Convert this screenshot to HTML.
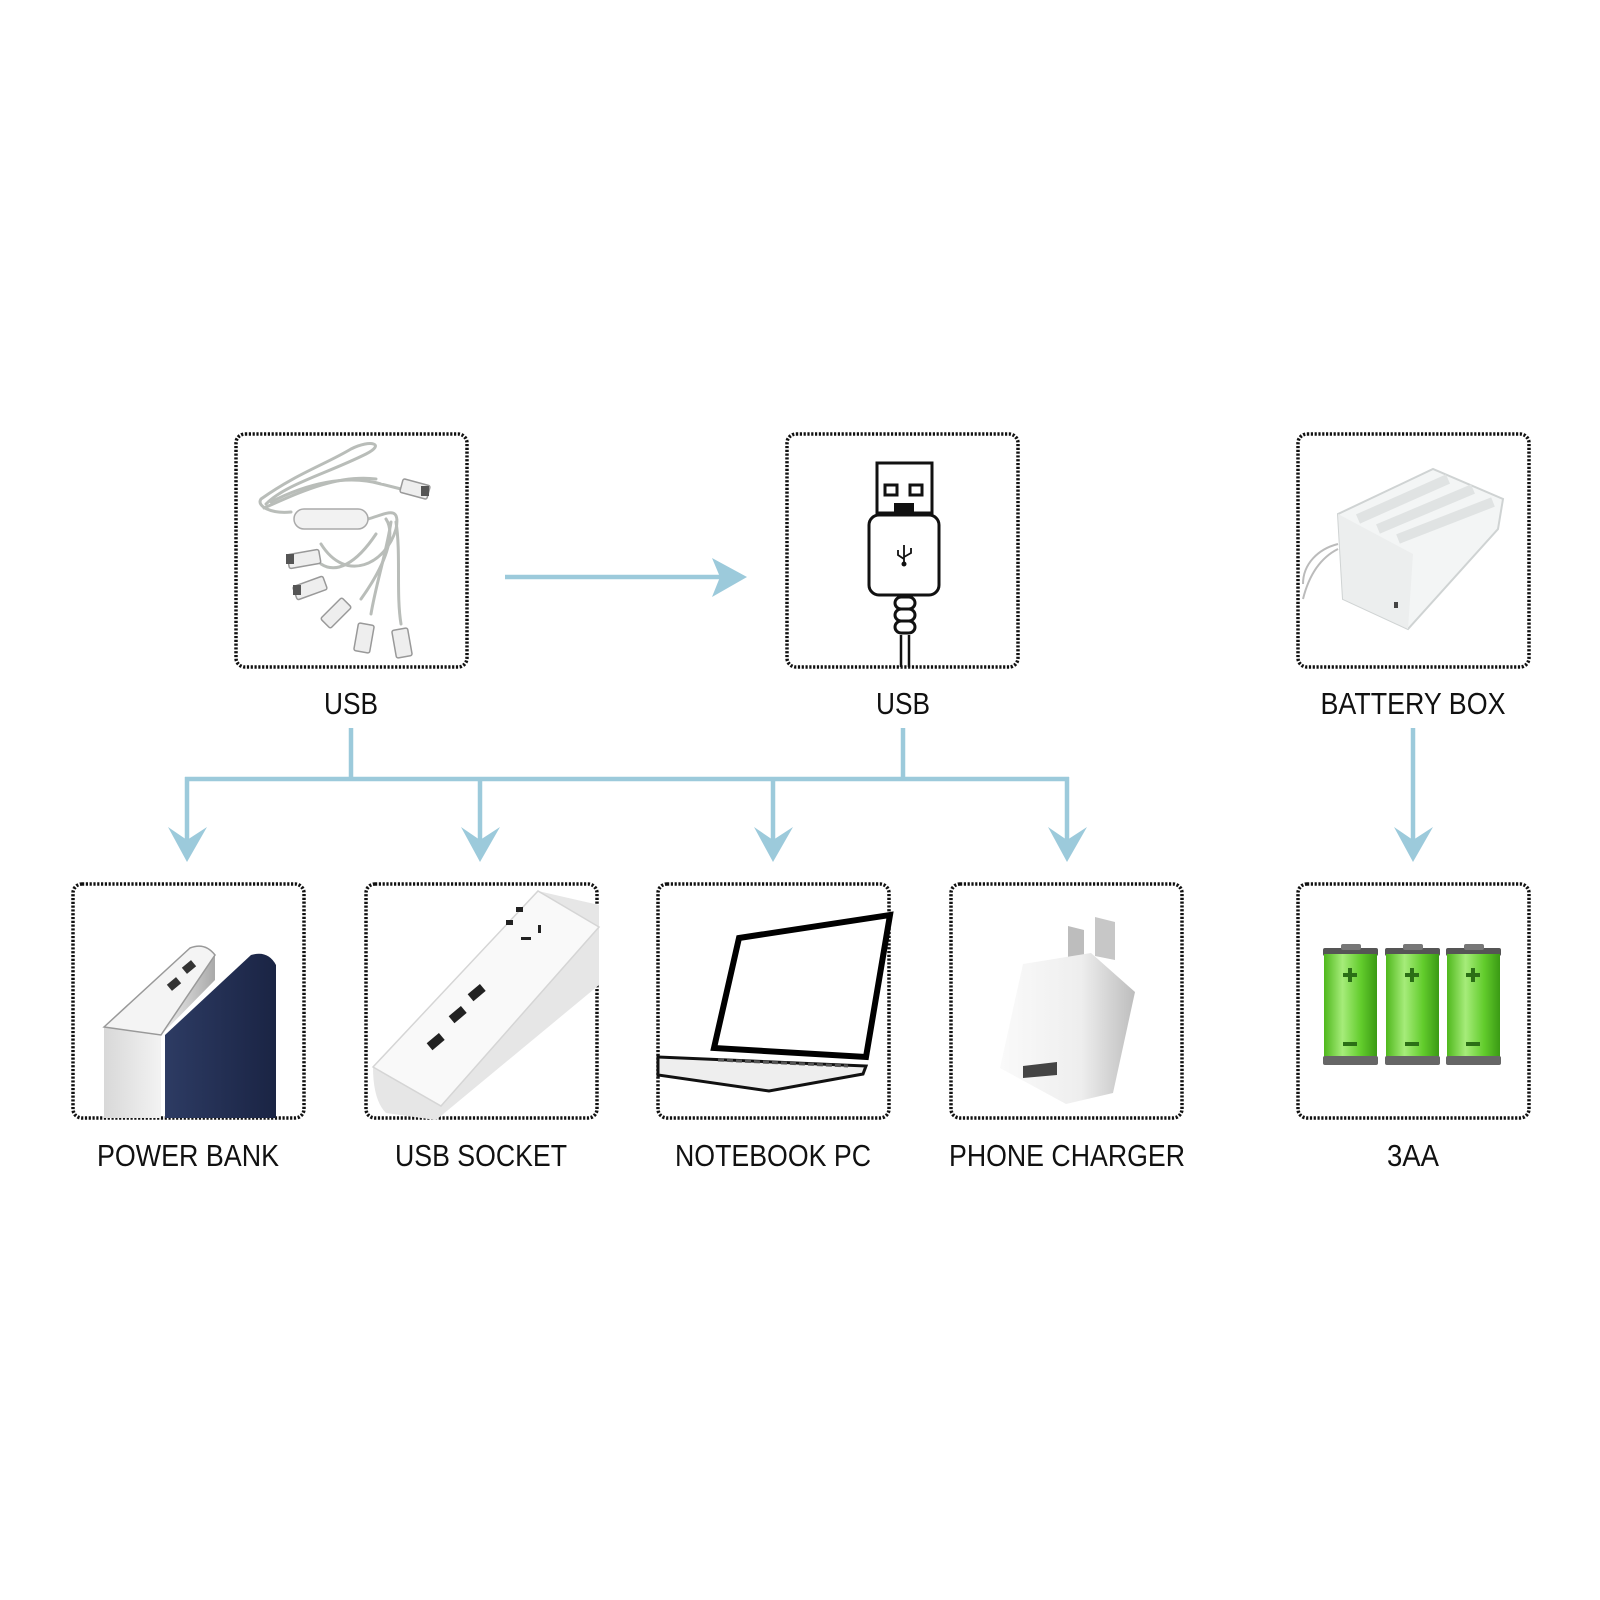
<!DOCTYPE html>
<html><head><meta charset="utf-8"><style>
html,body{margin:0;padding:0;background:#fff}
svg{display:block}
text{font-family:"Liberation Sans",sans-serif;font-size:31px;fill:#111}
</style></head><body>
<svg width="1600" height="1600" viewBox="0 0 1600 1600" xmlns="http://www.w3.org/2000/svg">
<defs>
<linearGradient id="grn" x1="0" x2="1"><stop offset="0" stop-color="#4fb81c"/><stop offset="0.35" stop-color="#a6ec7a"/><stop offset="0.7" stop-color="#62cc2c"/><stop offset="1" stop-color="#3a9a14"/></linearGradient>
<linearGradient id="slv" x1="0" x2="1"><stop offset="0" stop-color="#d8d8d8"/><stop offset="0.5" stop-color="#f2f2f2"/><stop offset="1" stop-color="#a9a9a9"/></linearGradient>
<linearGradient id="nvy" x1="0" x2="1"><stop offset="0" stop-color="#2d3b63"/><stop offset="1" stop-color="#1a2444"/></linearGradient>
<linearGradient id="chg" x1="0" x2="1"><stop offset="0" stop-color="#fafafa"/><stop offset="0.6" stop-color="#eeeeee"/><stop offset="1" stop-color="#bdbdbd"/></linearGradient>
<g id="bat">
<rect x="0" y="4" width="55" height="8" rx="2" fill="#555"/>
<rect x="18" y="0" width="20" height="6" rx="2" fill="#777"/>
<rect x="1" y="10" width="53" height="104" fill="url(#grn)"/>
<rect x="0" y="112" width="55" height="9" rx="2" fill="#666"/>
<path d="M27 24v14M20 31h14" stroke="#2b6f16" stroke-width="4"/>
<path d="M20 100h14" stroke="#2b6f16" stroke-width="4"/>
</g>
</defs>

<g fill="none" stroke="#111" stroke-width="3.5" stroke-dasharray="2.2 1.6">
<rect x="236" y="434" width="231" height="233" rx="9"/>
<rect x="787" y="434" width="231" height="233" rx="9"/>
<rect x="1298" y="434" width="231" height="233" rx="9"/>
<rect x="73" y="884" width="231" height="234" rx="9"/>
<rect x="366" y="884" width="231" height="234" rx="9"/>
<rect x="658" y="884" width="231" height="234" rx="9"/>
<rect x="951" y="884" width="231" height="234" rx="9"/>
<rect x="1298" y="884" width="231" height="234" rx="9"/>
</g>

<g stroke="#9ccadb" stroke-width="4.5" fill="none">
<line x1="505" y1="577" x2="725" y2="577"/>
<line x1="351" y1="728" x2="351" y2="779"/>
<line x1="903" y1="728" x2="903" y2="779"/>
<line x1="185" y1="779" x2="1069" y2="779"/>
<line x1="187" y1="777" x2="187" y2="845"/>
<line x1="480" y1="777" x2="480" y2="845"/>
<line x1="773" y1="777" x2="773" y2="845"/>
<line x1="1067" y1="777" x2="1067" y2="845"/>
<line x1="1413" y1="728" x2="1413" y2="845"/>
</g>
<g fill="#9ccadb">
<path d="M747 577L712 558L720 577L712 597Z"/>
<path d="M187 862L168 827L187 840L207 827Z"/>
<path d="M480 862L461 827L480 840L500 827Z"/>
<path d="M773 862L754 827L773 840L793 827Z"/>
<path d="M1067 862L1048 827L1067 840L1087 827Z"/>
<path d="M1413 862L1394 827L1413 840L1433 827Z"/>
</g>

<g transform="translate(236,434)" stroke-linecap="round">
<g fill="none" stroke="#b9bdb9" stroke-width="3">
<path d="M30 70C50 50 90 40 130 20C150 10 135 5 115 15C90 30 60 40 25 65C20 72 35 80 55 78"/>
<path d="M35 68C70 50 110 40 145 50L165 55"/>
<path d="M28 74C60 60 100 40 140 45"/>
<path d="M132 85C150 80 165 70 160 95C150 130 110 150 85 110"/>
<path d="M150 85C160 100 150 130 125 165"/>
<path d="M155 88C150 120 140 150 135 180"/>
<path d="M160 88C165 120 160 160 165 190"/>
<path d="M140 100C120 130 100 140 85 130"/>
</g>
<rect x="58" y="75" width="74" height="20" rx="10" fill="#f2f2f2" stroke="#aaa" stroke-width="1.5"/>
<g fill="#eee" stroke="#999" stroke-width="1.5">
<rect x="165" y="48" width="28" height="14" rx="2" transform="rotate(15 179 55)"/>
<rect x="52" y="118" width="32" height="14" rx="2" transform="rotate(-10 68 125)"/>
<rect x="58" y="147" width="32" height="14" rx="2" transform="rotate(-20 74 154)"/>
<rect x="85" y="172" width="30" height="14" rx="2" transform="rotate(-45 100 179)"/>
<rect x="120" y="190" width="16" height="28" rx="2" transform="rotate(10 128 204)"/>
<rect x="158" y="195" width="16" height="28" rx="2" transform="rotate(-10 166 209)"/>
</g>
<g fill="#555"><rect x="185" y="52" width="8" height="10"/><rect x="50" y="120" width="8" height="10"/><rect x="57" y="151" width="8" height="10"/></g>
</g>

<g fill="none" stroke="#111" stroke-width="3">
<rect x="877" y="463" width="55" height="50"/>
<rect x="885" y="485" width="12" height="10"/>
<rect x="910" y="485" width="12" height="10"/>
<rect x="869" y="515" width="70" height="80" rx="10"/>
<rect x="895" y="597" width="20" height="12" rx="6"/>
<rect x="895" y="609" width="20" height="12" rx="6"/>
<rect x="895" y="621" width="20" height="12" rx="6"/>
<path d="M901 635V667M909 635V667" stroke-width="2.5"/>
<path d="M904 545V563M898 550v5l6 4M911 548v5l-7 4" stroke-width="1.8"/>
</g>
<rect x="894" y="503" width="20" height="11" fill="#111"/>
<circle cx="904" cy="564" r="2.5" fill="#111"/>

<g transform="translate(1298,434)">
<path d="M40 80L135 35L205 65L200 95L110 195L45 165Z" fill="#f3f5f5" stroke="#cfd3d3" stroke-width="2"/>
<path d="M45 165L110 195L115 120L40 80Z" fill="#eceeee"/>
<path d="M60 85L150 45M80 95L175 55M100 105L195 68" stroke="#e0e3e3" stroke-width="10"/>
<path d="M40 110C20 115 5 130 5 150M40 115C20 125 10 145 5 165" stroke="#bbb" stroke-width="2" fill="none"/>
<rect x="96" y="168" width="4" height="6" fill="#444"/>
</g>

<g transform="translate(73,885)">
<path d="M31 142L117 63Q132 57 142 70L142 95L88 150L88 233L31 233Z" fill="url(#slv)"/>
<path d="M31 142L117 63Q132 57 142 70L88 150Z" fill="#f4f4f4" stroke="#999" stroke-width="1.5"/>
<path d="M92 150L178 70Q195 65 203 80L203 233L92 233Z" fill="url(#nvy)"/>
<rect x="95" y="95" width="12" height="8" fill="#333" transform="rotate(-40 101 99)"/>
<rect x="110" y="78" width="12" height="8" fill="#333" transform="rotate(-40 116 82)"/>
</g>

<g transform="translate(366,885)">
<path d="M7 182L172 6L233 20L233 100L70 235L20 228Q7 215 7 182Z" fill="#e6e6e6"/>
<path d="M7 182L172 6L233 42L75 221Z" fill="#f9f9f9" stroke="#d5d5d5" stroke-width="1.5"/>
<g fill="#222"><rect x="62" y="152" width="16" height="9" transform="rotate(-40 70 157)"/><rect x="84" y="125" width="16" height="9" transform="rotate(-40 92 130)"/><rect x="103" y="103" width="16" height="9" transform="rotate(-40 111 108)"/><rect x="150" y="22" width="7" height="5"/><rect x="140" y="35" width="7" height="5"/><rect x="155" y="52" width="10" height="3"/><rect x="172" y="40" width="3" height="8"/></g>
</g>

<g transform="translate(658,884)">
<path d="M81 54L232 31L208 173L56 164Z" fill="#fff" stroke="#000" stroke-width="6"/>
<path d="M0 173L208 182L205 190L111 207L0 191Z" fill="#eee" stroke="#111" stroke-width="3"/>
<path d="M60 176L190 182" stroke="#555" stroke-width="3" stroke-dasharray="6 3"/>
</g>

<g transform="translate(951,884)">
<path d="M117 42L133 46L133 80L117 76Z" fill="#bdbdbd"/>
<path d="M144 33L164 38L164 76L144 72Z" fill="#c7c7c7"/>
<path d="M72 80L140 69L184 108L162 209L115 220L49 184Z" fill="url(#chg)"/>
<path d="M72 182L106 178L106 191L72 194Z" fill="#444"/>
</g>

<use href="#bat" x="1323" y="944"/>
<use href="#bat" x="1385" y="944"/>
<use href="#bat" x="1446" y="944"/>

<g text-anchor="middle">
<text x="351" y="714" textLength="54" lengthAdjust="spacingAndGlyphs">USB</text>
<text x="903" y="714" textLength="54" lengthAdjust="spacingAndGlyphs">USB</text>
<text x="1413" y="714" textLength="185" lengthAdjust="spacingAndGlyphs">BATTERY BOX</text>
<text x="188" y="1166" textLength="182" lengthAdjust="spacingAndGlyphs">POWER BANK</text>
<text x="481" y="1166" textLength="172" lengthAdjust="spacingAndGlyphs">USB SOCKET</text>
<text x="773" y="1166" textLength="196" lengthAdjust="spacingAndGlyphs">NOTEBOOK PC</text>
<text x="1067" y="1166" textLength="236" lengthAdjust="spacingAndGlyphs">PHONE CHARGER</text>
<text x="1413" y="1166" textLength="52" lengthAdjust="spacingAndGlyphs">3AA</text>
</g>
</svg>
</body></html>
